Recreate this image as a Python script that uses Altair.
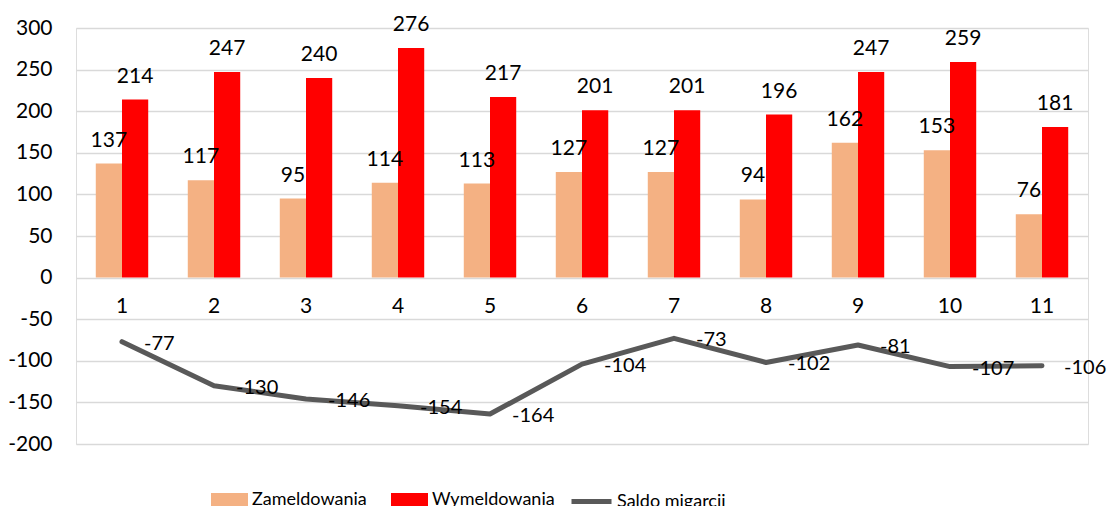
import altair as alt
import pandas as pd

months = ["1", "2", "3", "4", "5", "6", "7", "8", "9", "10", "11"]
zameldowania = [137, 117, 95, 114, 113, 127, 127, 94, 162, 153, 76]
wymeldowania = [214, 247, 240, 276, 217, 201, 201, 196, 247, 259, 181]
saldo = [-77, -130, -146, -154, -164, -104, -73, -102, -81, -107, -106]
bar_series = ["Zameldowania", "Wymeldowania"]
line_series = ["Saldo migarcji"]
y_ticks = [-200, -150, -100, -50, 0, 50, 100, 150, 200, 250, 300]

bar_values = zameldowania + wymeldowania
bars_df = pd.DataFrame({
    "m": months * 2,
    "series": [bar_series[0]] * len(months) + [bar_series[1]] * len(months),
    "value": bar_values,
    "lbl": [str(v) for v in bar_values],
})
line_df = pd.DataFrame({
    "m": months,
    "series": line_series * len(months),
    "value": saldo,
    "lbl": [str(v) for v in saldo],
})

FONT = "Lato"
FS = 21
LFS = 18
W, H = 1012, 416
zero_from_bottom = H * 200 / 500

x = alt.X(
    "m:N", sort=months,
    scale=alt.Scale(paddingInner=0.43, paddingOuter=0.215),
    axis=alt.Axis(orient="bottom", offset=-zero_from_bottom, domain=False, ticks=False,
                  labelAngle=0, labelPadding=18, labelFontSize=FS, labelColor="#000000",
                  labelFont=FONT, title=None, grid=False),
)
y = alt.Y(
    "value:Q",
    scale=alt.Scale(domain=[-200, 300], nice=False),
    axis=alt.Axis(values=y_ticks, grid=True, gridColor="#D9D9D9", gridWidth=1.3,
                  domain=False, ticks=False, labelPadding=24, labelFontSize=FS,
                  labelColor="#000000", labelFont=FONT, title=None,
                  labelExpr="'' + datum.value"),
)
xoff = alt.XOffset("series:N", sort=bar_series, scale=alt.Scale(paddingInner=0, paddingOuter=0))

bars = alt.Chart(bars_df).mark_bar().encode(
    x=x, xOffset=xoff, y=y,
    color=alt.Color(
        "series:N", sort=bar_series,
        scale=alt.Scale(domain=bar_series, range=["#F4B183", "#FF0000"]),
        legend=alt.Legend(
            orient="none", legendX=135, legendY=453, direction="horizontal",
            title=None, symbolType="M-1,-0.37H1V0.37H-1Z", symbolSize=1369,
            symbolStrokeWidth=0, labelFontSize=LFS, labelFont=FONT, labelColor="#000000",
            columnPadding=24, labelOffset=4, padding=0,
        ),
    ),
)
bar_text = alt.Chart(bars_df).mark_text(
    dy=-17, baseline="alphabetic", fontSize=FS, font=FONT, color="#000000"
).encode(x=x, xOffset=xoff, y=y, text=alt.Text("lbl:N"))

line = alt.Chart(line_df).mark_line(strokeWidth=5, strokeCap="round", strokeJoin="round").encode(
    x=x, y=y,
    stroke=alt.Stroke(
        "series:N",
        scale=alt.Scale(domain=line_series, range=["#595959"]),
        legend=alt.Legend(
            orient="none", legendX=493, legendY=451, title=None,
            symbolType="stroke", symbolSize=1600, symbolStrokeWidth=5,
            labelFontSize=LFS, labelFont=FONT, labelColor="#000000",
            labelOffset=3, padding=0,
        ),
    ),
)
line_text = alt.Chart(line_df).mark_text(
    align="left", dx=22, dy=2, baseline="middle", fontSize=20, font=FONT, color="#000000"
).encode(x=x, y=y, text=alt.Text("lbl:N"))

chart = alt.layer(bars, bar_text, line, line_text).properties(
    width=W, height=H,
    autosize=alt.AutoSizeParams(type="none"),
    padding={"left": 68, "top": 20, "right": 20, "bottom": 70},
).configure_view(stroke=None).configure(font=FONT)

chart.save("out.html", embed_options={"renderer": "svg", "actions": False})
